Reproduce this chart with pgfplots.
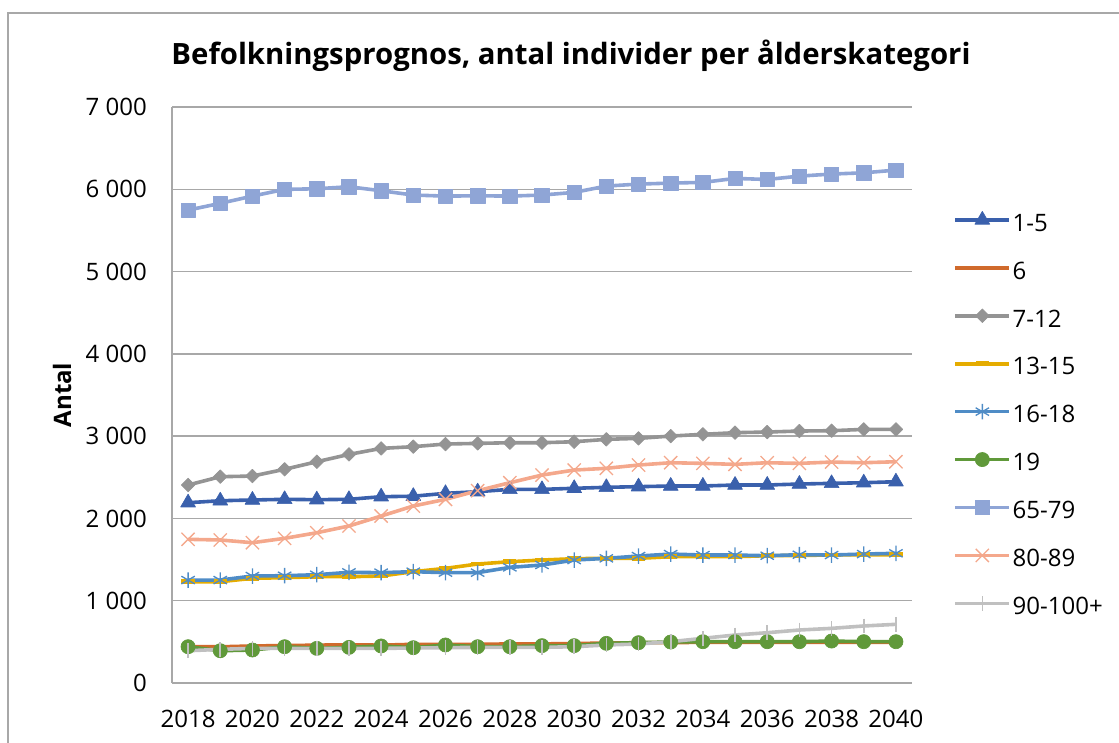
\documentclass[border=0pt]{standalone}
\usepackage{pgfplots}
\usepackage{pgfplotstable}
\pgfplotsset{compat=1.18}
\usepackage{fontspec}
\setmainfont{Open Sans}
\usetikzlibrary{plotmarks}

\definecolor{cA}{RGB}{58,96,172}
\definecolor{cB}{RGB}{208,106,44}
\definecolor{cC}{RGB}{148,148,148}
\definecolor{cD}{RGB}{229,172,0}
\definecolor{cE}{RGB}{79,140,198}
\definecolor{cF}{RGB}{96,153,58}
\definecolor{cG}{RGB}{143,165,214}
\definecolor{cH}{RGB}{244,168,140}
\definecolor{cI}{RGB}{192,192,192}
\definecolor{gridc}{RGB}{168,168,168}

\pgfplotstableread{
year a b c d e f g h i
2018 2191 440 2406 1231 1251 441 5747 1746 392
2019 2215 440 2507 1231 1251 392 5829 1738 409
2020 2224 450 2515 1272 1300 401 5917 1705 421
2021 2232 455 2597 1280 1304 441 5999 1758 421
2022 2228 460 2689 1292 1316 421 6006 1826 421
2023 2232 465 2778 1292 1345 433 6031 1908 421
2024 2264 460 2851 1300 1341 450 5982 2029 421
2025 2270 470 2872 1353 1353 429 5930 2151 425
2026 2305 470 2904 1393 1341 462 5917 2232 429
2027 2325 470 2912 1446 1341 441 5921 2337 433
2028 2353 475 2920 1474 1405 441 5917 2434 433
2029 2353 475 2920 1494 1434 454 5930 2527 433
2030 2366 480 2932 1511 1494 454 5962 2588 441
2031 2378 485 2961 1515 1515 482 6039 2609 462
2032 2386 490 2973 1515 1543 490 6063 2649 474
2033 2394 490 3001 1535 1567 498 6075 2677 502
2034 2394 495 3022 1535 1555 502 6084 2669 543
2035 2406 495 3042 1535 1555 502 6132 2657 583
2036 2406 495 3050 1547 1547 502 6119 2677 611
2037 2418 495 3062 1551 1559 502 6160 2669 644
2038 2426 495 3066 1555 1555 510 6185 2685 664
2039 2434 495 3082 1559 1567 502 6200 2677 693
2040 2446 495 3082 1559 1576 502 6233 2689 713
}\data

\begin{document}
\begin{tikzpicture}
\useasboundingbox (0,0) rectangle (839.25pt,556.5pt);
\draw[gridc, line width=1pt] (6pt,-2pt) -- (6pt,546.75pt) -- (842pt,546.75pt);
\node[font=\fontsize{22}{26}\selectfont\bfseries, inner sep=0pt] at (428.25pt,515pt) {Befolkningsprognos, antal individer per ålderskategori};
\begin{axis}[
  at={(129pt,44.25pt)}, anchor=south west,
  scale only axis, width=555pt, height=432pt,
  xmin=2017.5, xmax=2040.5, ymin=0, ymax=7000,
  xtick={2018,2020,...,2040},
  ytick={0,1000,...,7000},
  yticklabels={0,1~000,2~000,3~000,4~000,5~000,6~000,7~000},
  xticklabel={\pgfmathprintnumber[1000 sep={}]{\tick}},
  /pgf/number format/assume math mode=true,
  ticklabel style={font=\fontsize{18}{20}\selectfont, inner sep=0pt},
  yticklabel style={anchor=east, xshift=-18.75pt},
  xticklabel style={anchor=north, yshift=-20pt},
  major tick length=0pt,
  axis lines=left, axis line style={gridc, line width=1pt, -},
  ymajorgrids, grid style={gridc, line width=1pt},
  ylabel={Antal},
  ylabel style={font=\fontsize{18}{20}\selectfont\bfseries, at={(axis description cs:-0.1486,0.5)}, anchor=center},
  clip=false,
  legend cell align=left,
  legend style={draw=none, fill=none, font=\fontsize{18}{20}\selectfont,
    at={(axis description cs:1.0582,0.8283)}, anchor=north west,
    inner sep=0pt, row sep=17.2pt,
    nodes={inner sep=0pt, text height=12.5pt, text depth=0pt}},
  legend image code/.code={\path[draw=none, fill=none, use as bounding box] (0pt,0pt) rectangle (43pt,12.5pt);\draw[mark repeat=2,mark phase=2,#1] plot coordinates {(0pt,2.2pt) (20.25pt,2.2pt) (40.5pt,2.2pt)};},
  every axis plot/.append style={line width=2.7pt, line join=round},
]
\addplot[cA, mark=triangle*, mark size=6.4pt, mark options={line width=0.5pt}] table[x=year,y=a]{\data};
\addlegendentry{1-5}
\addplot[cB] table[x=year,y=b]{\data};
\addlegendentry{6}
\addplot[cC, mark=square*, mark size=3.6pt, mark options={rotate=45, line width=0.5pt}] table[x=year,y=c]{\data};
\addlegendentry{7-12}
\addplot[cD, mark=-, mark size=5pt, mark options={line width=3.4pt}] table[x=year,y=d]{\data};
\addlegendentry{13-15}
\addplot[cE, mark=asterisk, mark size=5.8pt, mark options={line width=1pt}] table[x=year,y=e]{\data};
\addlegendentry{16-18}
\addplot[cF, mark=*, mark size=5.3pt, mark options={line width=0.5pt}] table[x=year,y=f]{\data};
\addlegendentry{19}
\addplot[cG, mark=square*, mark size=5.4pt, mark options={line width=0.5pt}] table[x=year,y=g]{\data};
\addlegendentry{65-79}
\addplot[cH, mark=x, mark size=7pt, mark options={line width=1pt}] table[x=year,y=h]{\data};
\addlegendentry{80-89}
\addplot[cI, mark=|, mark size=5.5pt, mark options={line width=1.2pt}] table[x=year,y=i]{\data};
\addlegendentry{90-100+}
\end{axis}
\end{tikzpicture}
\end{document}
